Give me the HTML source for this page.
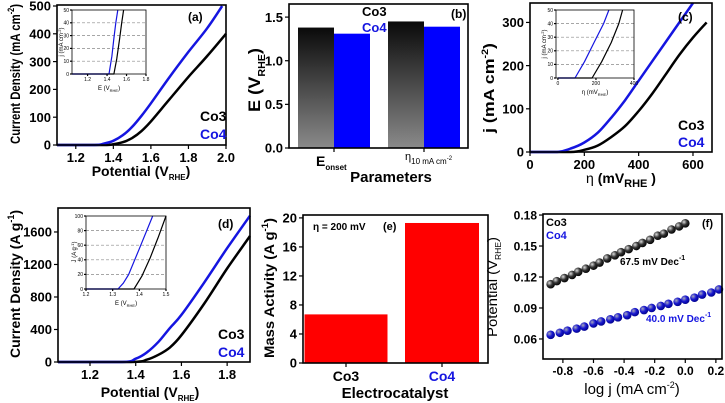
<!DOCTYPE html>
<html><head><meta charset="utf-8"><style>
body{margin:0;background:#fff;}
svg{display:block;font-family:"Liberation Sans",Arial,sans-serif;}
</style></head><body>
<svg id="fig" width="725" height="403" viewBox="0 0 725 403">
<defs>
<linearGradient id="gblk" x1="0" y1="0" x2="0" y2="1"><stop offset="0" stop-color="#0a0a0a"/><stop offset="1" stop-color="#8a8a8a"/></linearGradient>
<radialGradient id="ballK" cx="0.35" cy="0.35" r="0.7"><stop offset="0" stop-color="#ddd"/><stop offset="0.5" stop-color="#333"/><stop offset="1" stop-color="#000"/></radialGradient>
<radialGradient id="ballB" cx="0.35" cy="0.35" r="0.7"><stop offset="0" stop-color="#aab"/><stop offset="0.5" stop-color="#1818d0"/><stop offset="1" stop-color="#000088"/></radialGradient>
</defs>
</svg>
<script>
// ---- Panel (a) data
const aCo3X=[1.1,1.35,1.4,1.45,1.5,1.55,1.6,1.7,1.8,1.9,2.0];
const aCo3Y=[0,0,3,10,25,50,85,165,245,320,400];
const aCo4X=[1.1,1.3,1.35,1.4,1.45,1.5,1.55,1.6,1.7,1.8,1.9,1.98];
const aCo4Y=[0,0,5,15,35,65,105,150,245,335,420,500];
const aInCo3X=[1.04,1.47,1.5,1.53,1.55,1.57];
const aInCo3Y=[0,0,12,28,40,50];
const aInCo4X=[1.04,1.42,1.45,1.47,1.49,1.51];
const aInCo4Y=[0,0,14,28,40,50];
// ---- Panel (b)
const bCats=["Eonset","eta10"];
const bCo3=[1.38,1.45];
const bCo4=[1.31,1.39];
// ---- Panel (c)
const cCo3X=[0,150,200,250,300,350,400,450,500,550,600,650];
const cCo3Y=[0,0,5,15,35,60,95,135,180,225,265,300];
const cCo4X=[0,100,150,200,250,300,350,400,450,500,550,600];
const cCo4Y=[0,0,8,22,45,80,120,165,210,255,300,345];
const cInCo3X=[0,180,230,280,320,340];
const cInCo3Y=[0,0,12,26,40,50];
const cInCo4X=[0,90,140,190,240,268];
const cInCo4Y=[0,0,12,26,40,50];
// ---- Panel (d)
const dCo3X=[1.06,1.38,1.45,1.5,1.55,1.6,1.7,1.8,1.9];
const dCo3Y=[0,0,30,90,180,330,720,1150,1550];
const dCo4X=[1.06,1.34,1.4,1.45,1.5,1.55,1.6,1.7,1.8,1.9];
const dCo4Y=[0,0,40,120,250,420,580,980,1400,1800];
const dInCo3X=[1.2,1.38,1.41,1.44,1.47,1.5];
const dInCo3Y=[0,0,18,42,70,100];
const dInCo4X=[1.2,1.32,1.34,1.36,1.4,1.45];
const dInCo4Y=[0,0,8,20,55,100];
// ---- Panel (e)
const eCats=["Co3","Co4"];
const eVals=[6.7,19.3];
// ---- Panel (f)
const fCo3X=[-0.88,-0.84,-0.79,-0.74,-0.70,-0.65,-0.60,-0.56,-0.51,-0.46,-0.42,-0.37,-0.32,-0.28,-0.23,-0.18,-0.14,-0.09,-0.04,0.0];
const fCo3Y=[0.113,0.116,0.119,0.122,0.125,0.128,0.131,0.134,0.138,0.141,0.144,0.147,0.150,0.153,0.156,0.160,0.162,0.166,0.169,0.172];
const fCo4X=[-0.88,-0.82,-0.77,-0.71,-0.66,-0.60,-0.55,-0.49,-0.44,-0.38,-0.33,-0.27,-0.22,-0.16,-0.11,-0.05,0.0,0.06,0.11,0.17,0.22];
const fCo4Y=[0.064,0.066,0.068,0.070,0.072,0.075,0.077,0.079,0.081,0.083,0.086,0.088,0.090,0.092,0.094,0.096,0.098,0.100,0.103,0.105,0.108];

const NS="http://www.w3.org/2000/svg";
const svg=document.getElementById('fig');
function el(tag,attrs,parent,text){const e=document.createElementNS(NS,tag);for(const k in attrs)e.setAttribute(k,attrs[k]);if(text!==undefined)e.textContent=text;(parent||svg).appendChild(e);return e;}
function axes(x0,x1,y0,y1,d0,d1,r0,r1){return {X:v=>x0+(v-d0)/(d1-d0)*(x1-x0),Y:v=>y1-(v-r0)/(r1-r0)*(y1-y0)};}
function frame(g,x0,y0,x1,y1,w){el('rect',{x:x0,y:y0,width:x1-x0,height:y1-y0,fill:'none',stroke:'#000','stroke-width':w||1.6},g);}
function xticks(g,ax,vals,y,fs,lbl){vals.forEach(v=>{const x=ax.X(v);el('line',{x1:x,y1:y,x2:x,y2:y+(fs>8?4:2),stroke:'#000','stroke-width':1.2},g);const t=el('text',{x:x,y:y+(fs>8?fs+4:fs+2),'font-size':fs,'font-weight':fs>8?'bold':'normal','text-anchor':'middle'},g,lbl?lbl(v):v);});}
function yticks(g,ax,vals,x,fs,lbl){vals.forEach(v=>{const y=ax.Y(v);el('line',{x1:x-(fs>8?4:2),y1:y,x2:x,y2:y,stroke:'#000','stroke-width':1.2},g);const t=el('text',{x:x-(fs>8?6:3),y:y+fs*0.36,'font-size':fs,'font-weight':fs>8?'bold':'normal','text-anchor':'end'},g,lbl?lbl(v):v);});}
function line(g,ax,xs,ys,color,w,name,smooth){
  const P=xs.map((x,i)=>[ax.X(x),ax.Y(ys[i])]);
  let d='M'+P[0][0].toFixed(1)+','+P[0][1].toFixed(1);
  for(let i=0;i<P.length-1;i++){const p0=P[Math.max(i-1,0)],p1=P[i],p2=P[i+1],p3=P[Math.min(i+2,P.length-1)];
    if(!smooth||i===0){d+='L'+p2[0].toFixed(1)+','+p2[1].toFixed(1);continue;}
    const c1=[p1[0]+(p2[0]-p0[0])/6,p1[1]+(p2[1]-p0[1])/6],c2=[p2[0]-(p3[0]-p1[0])/6,p2[1]-(p3[1]-p1[1])/6];
    d+='C'+c1.map(v=>v.toFixed(1)).join(',')+' '+c2.map(v=>v.toFixed(1)).join(',')+' '+p2[0].toFixed(1)+','+p2[1].toFixed(1);}
  const p=el('path',{d:d,fill:'none',stroke:color,'stroke-width':w,'stroke-linejoin':'round'},g);return p;}
function grid(g,ax,vals,x0,x1){vals.forEach(v=>{el('line',{x1:x0,x2:x1,y1:ax.Y(v),y2:ax.Y(v),stroke:'#888','stroke-width':0.7,'stroke-dasharray':'3,2'},g);});}
function txt(g,x,y,s,fs,attrs,name){const a=Object.assign({x:x,y:y,'font-size':fs,'font-weight':'bold'},attrs||{});const t=el('text',a,g);t.innerHTML=s;return t;}
function grp(name){const g=el('g',{},svg);return g;}
function ytitle(g,x,y,s,fs,len,extra){return txt(g,x,y,s,fs,Object.assign({'text-anchor':'middle',transform:'rotate(-90 '+x+' '+y+')',textLength:len,lengthAdjust:'spacingAndGlyphs'},extra||{}),'y-axis-title');}
const BLUE='#1515e0';
const f1=v=>v.toFixed(1), f2=v=>v.toFixed(2);

// ===== Panel a
(function(){const g=grp('panel-a');const ax=axes(57,226,6,145,1.1,2.0,0,500);
line(g,ax,aCo3X,aCo3Y,'#000',2.5,'co3-line',true);line(g,ax,aCo4X,aCo4Y,BLUE,2.5,'co4-line',true);
frame(g,57,5,226,145);
xticks(g,ax,[1.2,1.4,1.6,1.8,2.0],145,13,f1);yticks(g,ax,[0,100,200,300,400,500],57,13);
ytitle(g,20,74,'Current Density (mA cm<tspan dy="-6" font-size="9">-2</tspan><tspan dy="6">)</tspan>',14,140);
txt(g,141,176,'Potential (V<tspan dy="4" font-size="8">RHE</tspan><tspan dy="-4">)</tspan>',14,{'text-anchor':'middle'},'x-axis-title');
txt(g,188,21,'(a)',12,{},'panel-label');
txt(g,200,121,'Co3',14,{},'legend-co3');txt(g,200,139,'Co4',14,{fill:BLUE},'legend-co4');
const ix=axes(72,146,10,74,1.04,1.8,0,50);el('rect',{x:72,y:10,width:74,height:64,fill:'#fff'},g);
grid(g,ix,[10,20,30,40],72,146);
line(g,ix,aInCo3X,aInCo3Y,'#000',1.2,'inset-co3-line');line(g,ix,aInCo4X,aInCo4Y,BLUE,1.2,'inset-co4-line');
frame(g,72,10,146,74,0.8);xticks(g,ix,[1.2,1.4,1.6,1.8],74,5,f1);yticks(g,ix,[0,10,20,30,40,50],72,5);
txt(g,109,90,'E (V<tspan dy="2" font-size="4">RHE</tspan><tspan dy="-2">)</tspan>',6,{'text-anchor':'middle','font-weight':'normal'},'inset-x-title');
txt(g,63,42,'j (mA cm<tspan dy="-2" font-size="4">-2</tspan><tspan dy="2">)</tspan>',6,{'text-anchor':'middle','font-weight':'normal',transform:'rotate(-90 63 42)'},'inset-y-title');
})();

// ===== Panel b
(function(){const g=grp('panel-b');const Y=v=>148-v/1.65*144;const gc=[334,424];
bCats.forEach((c,i)=>{let r=el('rect',{x:gc[i]-36,y:Y(bCo3[i]),width:36,height:148-Y(bCo3[i]),fill:'url(#gblk)'},g);
r=el('rect',{x:gc[i],y:Y(bCo4[i]),width:36,height:148-Y(bCo4[i]),fill:'#0000ff'},g);});
frame(g,289,4,468,148);
yticks(g,{Y:Y},[0,0.5,1.0,1.5],289,13,f1);
[334,424].forEach(x=>el('line',{x1:x,x2:x,y1:148,y2:152,stroke:'#000','stroke-width':1.2},g));
txt(g,316,166,'E<tspan dy="4" font-size="8">onset</tspan>',14,{},'x-tick-eonset');
txt(g,405,160,'η<tspan dy="4" font-size="8">10 mA cm<tspan dy="-4" font-size="6">-2</tspan></tspan>',11,{'font-weight':'normal'},'x-tick-eta10');
txt(g,391,182,'Parameters',15,{'text-anchor':'middle'},'x-axis-title');
ytitle(g,260,80,'E (V<tspan dy="5" font-size="10">RHE</tspan><tspan dy="-5">)</tspan>',17,64);
txt(g,362,16,'Co3',13,{},'legend-co3');txt(g,362,32,'Co4',13,{fill:BLUE},'legend-co4');
txt(g,451,18,'(b)',12,{},'panel-label');
})();

// ===== Panel c
(function(){const g=grp('panel-c');const ax=axes(530,712,3,152,0,670,0,345);
line(g,ax,cCo3X,cCo3Y,'#000',2.5,'co3-line',true);line(g,ax,cCo4X,cCo4Y,BLUE,2.5,'co4-line',true);
frame(g,530,3,712,152);
xticks(g,ax,[0,200,400,600],152,13);yticks(g,ax,[0,100,200,300],530,13);
ytitle(g,494,88,'j (mA cm<tspan dy="-6" font-size="9">-2</tspan><tspan dy="6">)</tspan>',15,90);
txt(g,621,183,'<tspan font-weight="normal">η</tspan> (mV<tspan dy="4" font-size="11">RHE</tspan><tspan dy="-4"> )</tspan>',14,{'text-anchor':'middle'},'x-axis-title');
txt(g,678,21,'(c)',12,{},'panel-label');
txt(g,678,130,'Co3',14,{},'legend-co3');txt(g,678,147,'Co4',14,{fill:BLUE},'legend-co4');
const ix=axes(556,634,10,78,-10,400,0,50);el('rect',{x:556,y:10,width:78,height:68,fill:'#fff'},g);
grid(g,ix,[10,20,30,40],556,634);
line(g,ix,cInCo3X,cInCo3Y,'#000',1.2,'inset-co3-line');line(g,ix,cInCo4X,cInCo4Y,BLUE,1.2,'inset-co4-line');
frame(g,556,10,634,78,0.8);xticks(g,ix,[0,200,400],78,5);yticks(g,ix,[0,10,20,30,40,50],556,5);
txt(g,595,94,'η (mV<tspan dy="2" font-size="4">RHE</tspan><tspan dy="-2">)</tspan>',6,{'text-anchor':'middle','font-weight':'normal'},'inset-x-title');
txt(g,546,44,'j (mA cm<tspan dy="-2" font-size="4">-2</tspan><tspan dy="2">)</tspan>',6,{'text-anchor':'middle','font-weight':'normal',transform:'rotate(-90 546 44)'},'inset-y-title');
})();

// ===== Panel d
(function(){const g=grp('panel-d');const ax=axes(58,250,208,362,1.06,1.9,0,1895);
line(g,ax,dCo3X,dCo3Y,'#000',2.5,'co3-line',true);line(g,ax,dCo4X,dCo4Y,BLUE,2.5,'co4-line',true);
frame(g,58,208,250,362);
xticks(g,ax,[1.2,1.4,1.6,1.8],362,13,f1);yticks(g,ax,[0,400,800,1200,1600],58,13);
ytitle(g,20,284,'Current Density (A g<tspan dy="-6" font-size="9">-1</tspan><tspan dy="6">)</tspan>',14,148);
txt(g,150,397,'Potential (V<tspan dy="4" font-size="8">RHE</tspan><tspan dy="-4">)</tspan>',14,{'text-anchor':'middle'},'x-axis-title');
txt(g,218,228,'(d)',12,{},'panel-label');
txt(g,218,339,'Co3',14,{},'legend-co3');txt(g,218,357,'Co4',14,{fill:BLUE},'legend-co4');
const ix=axes(86,166,216,289,1.2,1.5,0,100);el('rect',{x:86,y:216,width:80,height:73,fill:'#fff'},g);
grid(g,ix,[20,40,60,80],86,166);
line(g,ix,dInCo3X,dInCo3Y,'#000',1.2,'inset-co3-line');line(g,ix,dInCo4X,dInCo4Y,BLUE,1.2,'inset-co4-line');
frame(g,86,216,166,289,0.8);xticks(g,ix,[1.2,1.3,1.4,1.5],289,5,f1);yticks(g,ix,[0,20,40,60,80,100],86,5);
txt(g,126,305,'E (V<tspan dy="2" font-size="4">RHE</tspan><tspan dy="-2">)</tspan>',6,{'text-anchor':'middle','font-weight':'normal'},'inset-x-title');
txt(g,76,252,'J (A g<tspan dy="-2" font-size="4">-1</tspan><tspan dy="2">)</tspan>',6,{'text-anchor':'middle','font-weight':'normal',transform:'rotate(-90 76 252)'},'inset-y-title');
})();

// ===== Panel e
(function(){const g=grp('panel-e');const Y=v=>363-v/20.4*148;const cx=[346,442],bw=[83,74];
eCats.forEach((c,i)=>{const r=el('rect',{x:cx[i]-bw[i]/2,y:Y(eVals[i]),width:bw[i],height:363-Y(eVals[i]),fill:'#ff0000'},g);});
frame(g,303,215,488,363);
yticks(g,{Y:Y},[0,4,8,12,16,20],303,13);
eCats.forEach((c,i)=>{el('line',{x1:cx[i],x2:cx[i],y1:363,y2:367,stroke:'#000','stroke-width':1.2},g);txt(g,cx[i],381,c,14,{'text-anchor':'middle',fill:i?BLUE:'#000'},'x-tick-'+c);});
txt(g,395,398,'Electrocatalyst',15,{'text-anchor':'middle'},'x-axis-title');
ytitle(g,274,288,'Mass Activity (A g<tspan dy="-6" font-size="9">-1</tspan><tspan dy="6">)</tspan>',14,140);
txt(g,313,230,'η = 200 mV',10,{},'annotation-eta');txt(g,383,230,'(e)',11,{},'panel-label');
})();

// ===== Panel f
(function(){const g=grp('panel-f');const ax=axes(543,722,214,359,-0.93,0.24,0.0406,0.181);
fCo3X.forEach((x,i)=>{const c=el('circle',{cx:ax.X(x),cy:ax.Y(fCo3Y[i]),r:4.3,fill:'url(#ballK)'},g);});
fCo4X.forEach((x,i)=>{const c=el('circle',{cx:ax.X(x),cy:ax.Y(fCo4Y[i]),r:4.3,fill:'url(#ballB)'},g);});
frame(g,543,214,722,359);
xticks(g,ax,[-0.8,-0.6,-0.4,-0.2,0.0,0.2],359,12,f1);yticks(g,ax,[0.06,0.09,0.12,0.15,0.18],543,12,f2);
txt(g,632,394,'log j (mA cm<tspan dy="-6" font-size="9">-2</tspan><tspan dy="6">)</tspan>',15,{'text-anchor':'middle','font-weight':'normal'},'x-axis-title');
ytitle(g,497,287,'Potential (V<tspan dy="4" font-size="8">RHE</tspan><tspan dy="-4">)</tspan>',14,100,{'font-weight':'normal'});
txt(g,546,226,'Co3',11,{},'legend-co3');txt(g,546,239,'Co4',11,{fill:BLUE},'legend-co4');
txt(g,702,227,'(f)',11,{},'panel-label');
txt(g,620,265,'67.5 mV Dec<tspan dy="-5" font-size="7">-1</tspan>',10,{},'slope-co3');
txt(g,646,322,'40.0 mV Dec<tspan dy="-5" font-size="7">-1</tspan>',10,{fill:BLUE},'slope-co4');
})();
</script>
</body></html>
